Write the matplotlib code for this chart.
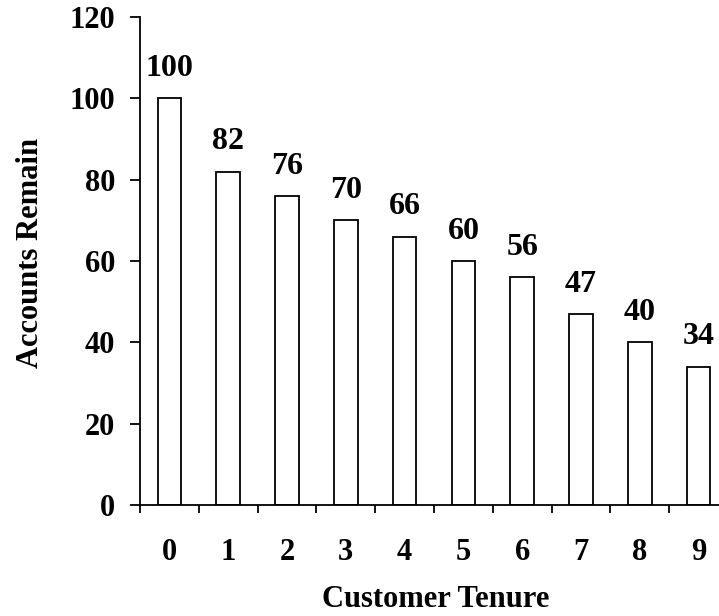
import matplotlib
matplotlib.use("Agg")
import matplotlib.pyplot as plt
import numpy as np

tenure = ["0", "1", "2", "3", "4", "5", "6", "7", "8", "9"]
accounts_remain = [100, 82, 76, 70, 66, 60, 56, 47, 40, 34]
y_ticks = [0, 20, 40, 60, 80, 100, 120]

plt.rcParams["font.family"] = ["Liberation Serif", "DejaVu Serif"]
plt.rcParams["font.weight"] = "bold"

fig = plt.figure(figsize=(7.19, 6.16), dpi=100)
ax = fig.add_axes([0.1947, 0.1802, 0.8178, 0.7922])

x = np.arange(len(tenure))
ax.bar(x, accounts_remain, width=0.4, color="white", edgecolor="black", linewidth=1.3)

for xi, v in zip(x, accounts_remain):
    ax.annotate(str(v), (xi, v), xytext=(0, 11), textcoords="offset points",
                ha="center", va="bottom", fontsize=23, fontweight="bold")

ax.set_xlim(-0.5, len(tenure) - 0.5)
ax.set_ylim(0, 120)
ax.set_yticks(y_ticks)
ax.set_yticklabels([str(t) for t in y_ticks], fontsize=22, fontweight="bold")

ax.set_xticks(x)
ax.set_xticklabels(tenure, fontsize=22, fontweight="bold")
ax.set_xticks(np.arange(-0.5, len(tenure) - 0.4, 1.0), minor=True)
ax.tick_params(axis="x", which="major", length=0, pad=24)
ax.tick_params(axis="x", which="minor", length=6, width=1.3, direction="out")
ax.tick_params(axis="y", which="major", length=7, width=1.3, direction="out", pad=11)

for side in ("top", "right"):
    ax.spines[side].set_visible(False)
for side in ("left", "bottom"):
    ax.spines[side].set_linewidth(1.3)

ax.set_xlabel("Customer Tenure", fontsize=22, fontweight="bold")
ax.set_ylabel("Accounts Remain", fontsize=22, fontweight="bold")
ax.xaxis.set_label_coords(0.503, -0.164)
ax.yaxis.set_label_coords(-0.161, 0.516)

fig.savefig("out.png", dpi=100)
